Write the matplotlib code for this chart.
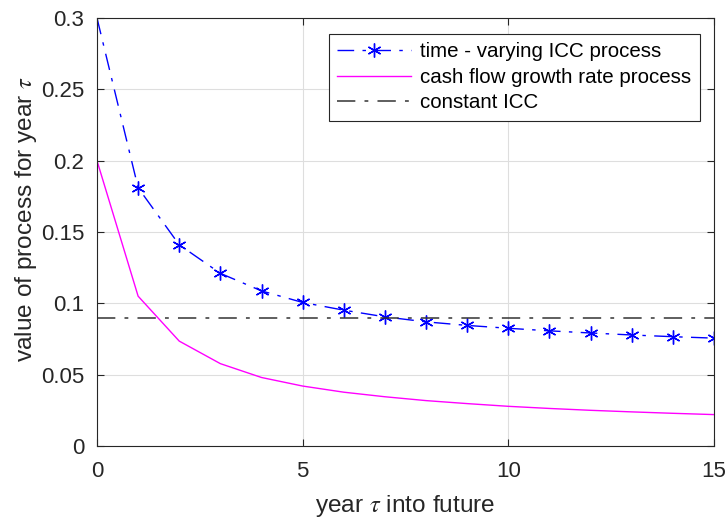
import matplotlib
matplotlib.use('Agg')
import matplotlib.pyplot as plt

# yearly values of the two processes
years = list(range(16))
icc_varying = [0.300, 0.181, 0.141, 0.121, 0.1087, 0.1006, 0.0952, 0.0905, 0.0870,
               0.0845, 0.0825, 0.0807, 0.0792, 0.0778, 0.0766, 0.0756]
cf_growth = [0.200, 0.105, 0.0735, 0.0577, 0.0480, 0.0420, 0.0377, 0.0345, 0.0318,
             0.0297, 0.0278, 0.0263, 0.0250, 0.0239, 0.0229, 0.0220]
icc_const = 0.0899

xticks = [0, 5, 10, 15]
yticks = [0, 0.05, 0.1, 0.15, 0.2, 0.25, 0.3]
ytick_labels = ['0', '0.05', '0.1', '0.15', '0.2', '0.25', '0.3']

plt.rcParams['font.family'] = ['Liberation Sans', 'DejaVu Sans']
plt.rcParams['mathtext.fontset'] = 'stix'

dash_dot = (12, 6, 2.5, 6)
ink = '#262626'

fig = plt.figure(figsize=(7.27, 5.21), dpi=100)
ax = fig.add_axes([0.1334, 0.144, 0.8487, 0.8215])

# first point sits on the top edge, no marker drawn there
ax.plot(years, icc_varying, color='#0000ff', linestyle='-.', linewidth=1,
        dashes=dash_dot, marker=(6, 2, 0), markersize=10, markeredgewidth=1,
        markevery=list(range(1, len(years))),
        label='time - varying ICC process')
ax.plot(years, cf_growth, color='#ff00ff', linewidth=1,
        label='cash flow growth rate process')
ax.axhline(icc_const, color='#333333', linestyle='-.', linewidth=1.1,
           dashes=dash_dot, label='constant ICC')

ax.set_xlim(0, 15)
ax.set_ylim(0, 0.3)
ax.set_xticks(xticks)
ax.set_yticks(yticks)
ax.set_yticklabels(ytick_labels)
ax.grid(True, color='#dedede', linewidth=0.8)
ax.set_axisbelow(True)

ax.tick_params(direction='in', top=True, right=True, length=5, width=0.8,
               labelsize=16, colors=ink, pad=9)
ax.tick_params(axis='x', pad=11)
for s in ax.spines.values():
    s.set_color(ink)
    s.set_linewidth(0.8)

ax.set_xlabel(r'year $\tau$ into future', fontsize=17.6, color=ink, labelpad=8)
ax.set_ylabel(r'value of process for year $\tau$', fontsize=17.6, color=ink)
ax.yaxis.set_label_coords(-0.094, 0.530)

leg = ax.legend(loc='upper right', bbox_to_anchor=(0.977, 0.9626), borderaxespad=0,
                fontsize=14.8, fancybox=False, edgecolor=ink, framealpha=1,
                handlelength=3.6, handletextpad=0.45, borderpad=0.4,
                labelspacing=0.32)
leg.get_frame().set_linewidth(0.8)

fig.savefig('out.png', dpi=100)
